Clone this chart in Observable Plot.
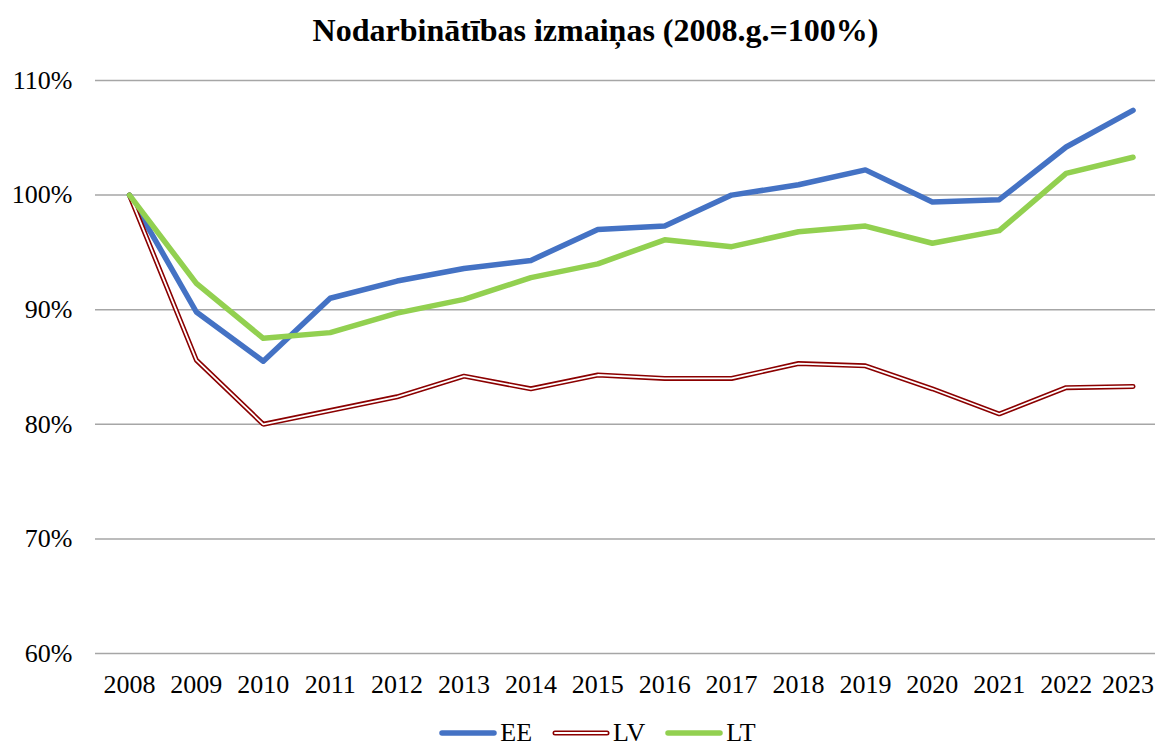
<!DOCTYPE html>
<html>
<head>
<meta charset="utf-8">
<script src="https://cdn.jsdelivr.net/npm/d3@7"></script>
<script src="https://cdn.jsdelivr.net/npm/@observablehq/plot@0.6"></script>
<style>
  html, body { margin: 0; padding: 0; background: #fff; overflow: hidden; width: 1155px; height: 747px; }
  #title { height: 56px; box-sizing: border-box; padding-left: 36px; padding-top: 10px; text-align: center;
    font-family: "Liberation Serif", serif; font-weight: bold; font-size: 32px; line-height: 40px; color: #000; }
  #chart svg { display: block; }
  #legend { height: 41px; display: flex; justify-content: center; align-items: flex-start; padding-top: 14px; box-sizing: border-box;
    font-family: "Liberation Serif", serif; font-size: 26px; line-height: 26px; color: #000; padding-left: 40px; }
  .item { display: flex; align-items: center; height: 26px; margin: 0 10px; }
  .item svg { margin-right: 3px; display: block; }
</style>
</head>
<body>
<div id="title">Nodarbinātības izmaiņas (2008.g.=100%)</div>
<div id="chart"></div>
<div id="legend"></div>
<script>
const years = [2008, 2009, 2010, 2011, 2012, 2013, 2014, 2015, 2016, 2017, 2018, 2019, 2020, 2021, 2022, 2023];
const seriesNames = ["EE", "LV", "LT"];
const EE = [100, 89.8, 85.5, 91.0, 92.5, 93.6, 94.3, 97.0, 97.3, 100.0, 100.9, 102.2, 99.4, 99.6, 104.2, 107.4];
const LV = [100, 85.6, 80.0, 81.2, 82.4, 84.2, 83.1, 84.3, 84.0, 84.0, 85.3, 85.1, 83.1, 80.9, 83.2, 83.3];
const LT = [100, 92.3, 87.5, 88.0, 89.7, 90.9, 92.8, 94.0, 96.1, 95.5, 96.8, 97.3, 95.8, 96.9, 101.9, 103.3];
const yTicks = [0.6, 0.7, 0.8, 0.9, 1.0, 1.1];
const colors = { EE: "#4472C4", LV: "#8B0000", LT: "#92D050" };

const toRows = (vals, name) => vals.map((v, i) => ({ year: years[i], value: v / 100, series: name }));
const eeRows = toRows(EE, "EE");
const lvRows = toRows(LV, "LV");
const ltRows = toRows(LT, "LT");

const lastYear = years[years.length - 1];

const chart = Plot.plot({
  width: 1155,
  height: 650,
  marginTop: 24,
  marginBottom: 53,
  marginLeft: 95,
  marginRight: 0,
  style: { fontFamily: "Liberation Serif, serif", fontSize: "26px", color: "#000", background: "#fff", overflow: "visible" },
  x: { type: "point", domain: years, range: [95.5, 1166], padding: 0.5, round: false, label: null },
  y: { domain: [0.6, 1.1], label: null },
  marks: [
    Plot.ruleY(yTicks, { stroke: "#a6a6a6", strokeWidth: 1.5 }),
    Plot.axisY({ ticks: yTicks, tickSize: 0, tickPadding: 23, tickFormat: d => Math.round(d * 100) + "%", label: null }),
    Plot.axisX({ ticks: years.slice(0, -1), tickSize: 0, tickPadding: 21, tickFormat: d => String(d), label: null }),
    Plot.axisX({ ticks: [lastYear], tickSize: 0, tickPadding: 21, dx: -5, tickFormat: d => String(d), label: null }),
    Plot.line(eeRows, { x: "year", y: "value", stroke: colors.EE, strokeWidth: 5.5, strokeLinejoin: "round", strokeLinecap: "round" }),
    Plot.line(lvRows, { x: "year", y: "value", stroke: colors.LV, strokeWidth: 5, strokeLinejoin: "miter", strokeLinecap: "round" }),
    Plot.line(lvRows, { x: "year", y: "value", stroke: "#ffffff", strokeWidth: 1.8, strokeLinejoin: "miter", strokeLinecap: "round" }),
    Plot.line(ltRows, { x: "year", y: "value", stroke: colors.LT, strokeWidth: 5.5, strokeLinejoin: "round", strokeLinecap: "round" })
  ]
});
document.getElementById("chart").appendChild(chart);

const legend = document.getElementById("legend");
seriesNames.forEach(name => {
  const item = document.createElement("div");
  item.className = "item";
  const ns = "http://www.w3.org/2000/svg";
  const sw = document.createElementNS(ns, "svg");
  sw.setAttribute("width", "58");
  sw.setAttribute("height", "12");
  const mk = (stroke, w) => {
    const l = document.createElementNS(ns, "line");
    l.setAttribute("x1", "3"); l.setAttribute("x2", "55");
    l.setAttribute("y1", "6"); l.setAttribute("y2", "6");
    l.setAttribute("stroke", stroke); l.setAttribute("stroke-width", w);
    l.setAttribute("stroke-linecap", "round");
    sw.appendChild(l);
  };
  if (name === "LV") { mk(colors.LV, 5); mk("#ffffff", 1.8); }
  else mk(colors[name], 5.5);
  item.appendChild(sw);
  const t = document.createElement("span");
  t.textContent = name;
  item.appendChild(t);
  legend.appendChild(item);
});
</script>
</body>
</html>
